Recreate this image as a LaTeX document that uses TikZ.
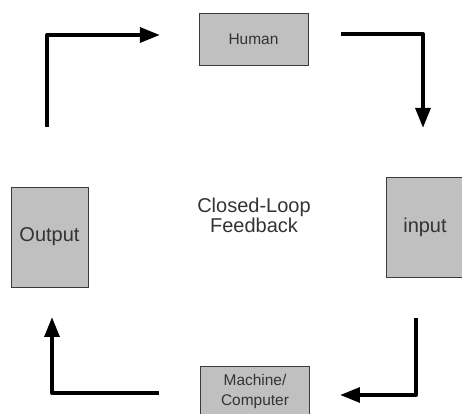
\documentclass[tikz,border=0pt]{standalone}
\usepackage{fontspec}
\setmainfont{Liberation Sans}
\usepackage{tikz}
\usetikzlibrary{positioning, arrows.meta}
\usepackage{xcolor}
\definecolor{loopFill}{HTML}{C0C0C0}
\definecolor{loopDraw}{HTML}{3A3A3A}
\definecolor{loopText}{HTML}{333333}

\begin{document}
\begin{tikzpicture}[
        x=0.75pt, y=-0.75pt,
        block/.style={
          rectangle, draw=loopDraw, line width=0.6pt,
          fill=loopFill, align=center, text=loopText,
          inner sep=0pt
        },
        wide/.style={
          block, minimum width=81.75pt, minimum height=39pt,
          font=\fontsize{11.6}{14}\selectfont
        },
        tall/.style={
          block, minimum width=57.75pt, minimum height=75pt,
          font=\fontsize{15}{18}\selectfont
        },
        arr/.style={-{Triangle[length=15pt,width=11pt]}, line width=3pt, line join=round}
      ]
      \useasboundingbox (0,0) rectangle (462,414);

      % Blocks
      \node[wide] (human) at (253.5,39) {Human};
      \node[tall] (input) at (425,227) {input};
      \node[wide, font=\fontsize{11.6}{15}\selectfont] (machine) at (255,392) {Machine/\\Computer};
      \node[tall] (output) at (49.5,237) {Output};

      % Title
      \node[align=center, text=loopText, font=\fontsize{15}{15}\selectfont] (title) at (254,215) {Closed-Loop\\Feedback};

      % Arrow ends
      \coordinate (a1s) at (47,127);
      \coordinate (a1e) at (160,35);
      \coordinate (a2s) at (341,34);
      \coordinate (a2e) at (423,128);
      \coordinate (a3s) at (416,318);
      \coordinate (a3e) at (340,395);
      \coordinate (a4s) at (159,393);
      \coordinate (a4e) at (52,317);

      % Loop
      \draw[arr] (a1s) |- (a1e);
      \draw[arr] (a2s) -| (a2e);
      \draw[arr] (a3s) |- (a3e);
      \draw[arr] (a4s) -| (a4e);

    \end{tikzpicture}
\end{document}
